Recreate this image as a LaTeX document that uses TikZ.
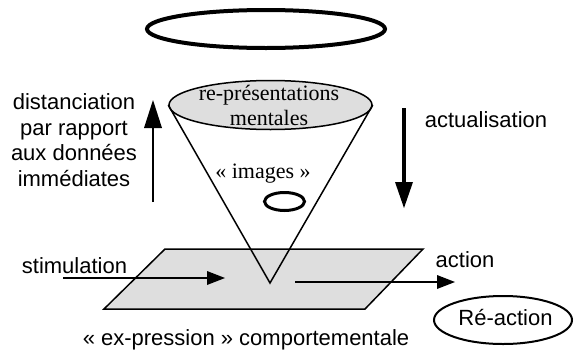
\documentclass[tikz,border=0pt]{standalone}
\usepackage{fontspec}
\setmainfont{Liberation Serif}
\newfontfamily\arial{Liberation Sans}
\usetikzlibrary{shapes.geometric,arrows.meta}
\definecolor{lightfill}{HTML}{DEDEDE}
\begin{document}
\begin{tikzpicture}[x=1pt,y=-1pt,
  sanstext/.style={font=\arial\fontsize{22}{25.6}\selectfont, inner sep=0pt, align=center},
  seriftext/.style={font=\fontsize{22}{25}\selectfont, inner sep=0pt, align=center},
  ring/.style={ellipse, draw, inner sep=0pt},
  flowarrow/.style={line width=2pt, -{Triangle[length=18pt,width=14pt,line width=0pt]}},
  uparrow/.style={line width=1.5pt, -{Triangle[length=28pt,width=18pt,line width=0pt]}},
  downarrow/.style={line width=4pt, -{Triangle[length=26pt,width=18pt,line width=0pt]}},
  thinline/.style={line width=1.5pt}
]
\useasboundingbox (0,0) rectangle (575,351);

% top ring
\node[ring, line width=4pt, minimum width=238pt, minimum height=38pt] (halo) at (266,29) {};

% behavioural plane
\coordinate (p1) at (165,249);
\coordinate (p2) at (423,249);
\coordinate (p3) at (365,309);
\coordinate (p4) at (104,309);
\draw[thinline, fill=lightfill, line join=miter] (p1) -- (p2) -- (p3) -- (p4) -- cycle;

% cone
\coordinate (apex) at (270,283);
\node[ring, thinline, fill=lightfill, minimum width=203pt, minimum height=49pt] (cone) at (270.5,105) {};
\draw[thinline] (cone.west) -- (apex) -- (cone.east);
\node[seriftext] (rep) at (269,105) {re-présentations\\mentales};
\node[seriftext, anchor=base] (img) at (263,178) {« images »};
\node[ring, line width=3pt, minimum width=40pt, minimum height=18pt] (small) at (284.5,201.5) {};

% left text and arrow
\node[sanstext] (dist) at (74,140) {distanciation\\par rapport\\aux données\\immédiates};
\coordinate (upS) at (153,202);
\coordinate (upE) at (153,100);
\draw[uparrow] (upS) -- (upE);

% right text and arrow
\node[sanstext, anchor=base] (act) at (486,127) {actualisation};
\coordinate (dnS) at (404,108);
\coordinate (dnE) at (404,208);
\draw[downarrow] (dnS) -- (dnE);

% stimulation
\node[sanstext, anchor=base] (stim) at (74.5,273) {stimulation};
\coordinate (stS) at (63,278);
\coordinate (stE) at (225,278);
\draw[flowarrow] (stS) -- (stE);

% action
\node[sanstext, anchor=base] (action) at (465,267) {action};
\coordinate (acS) at (295,282);
\coordinate (acE) at (455,282);
\draw[flowarrow] (acS) -- (acE);

% reaction
\node[ring, line width=2pt, minimum width=138pt, minimum height=48pt] (react) at (503,320) {};
\node[sanstext, anchor=base] (reactT) at (505.5,325) {Ré-action};

% caption
\node[sanstext, anchor=base] (expr) at (246,345.5) {« ex-pression » comportementale};
\end{tikzpicture}
\end{document}
